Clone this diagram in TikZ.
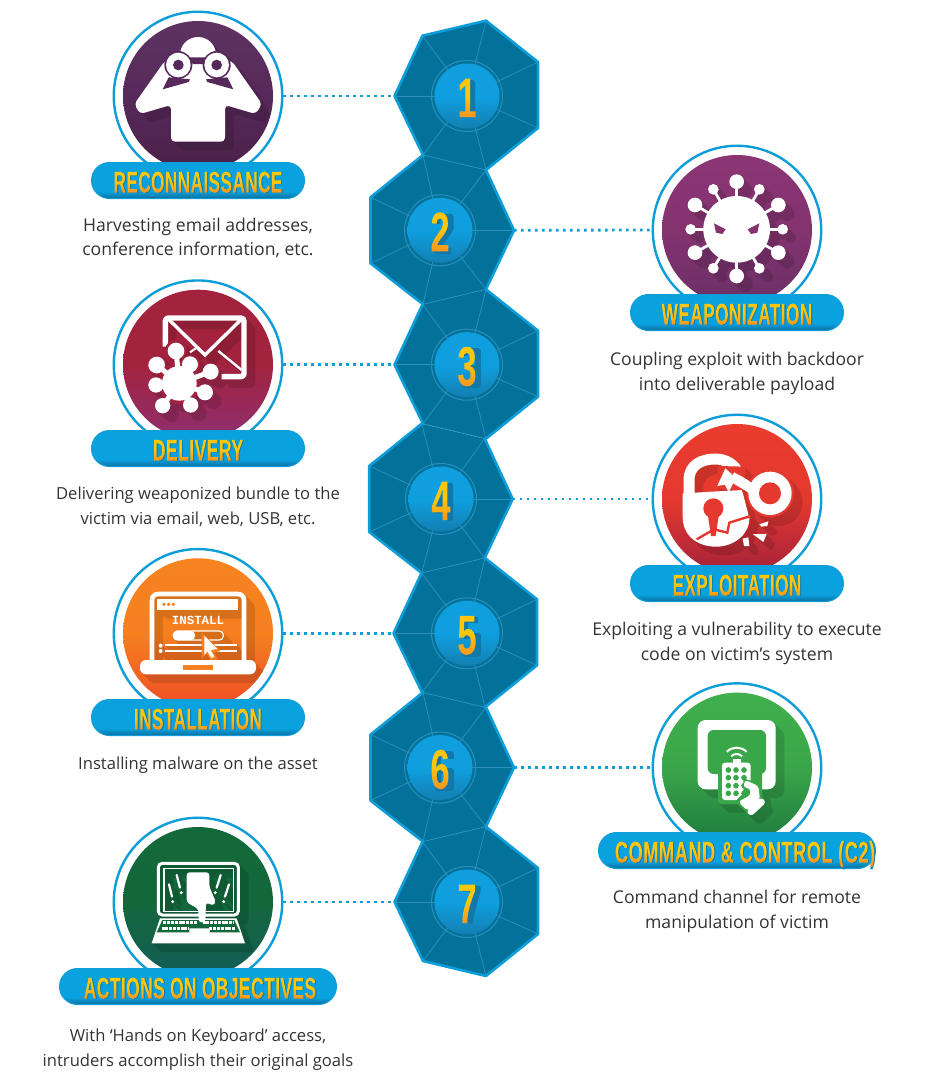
\documentclass[tikz,border=0pt]{standalone}
\usepackage{fontspec}
\setmainfont{Open Sans}
\newfontfamily\monoicon{Liberation Mono}
\usetikzlibrary{calc}
\definecolor{brand}{HTML}{0D9DD9}
\definecolor{hepdark}{HTML}{02729B}
\definecolor{spokec}{HTML}{2A8FBB}
\definecolor{txt}{HTML}{333333}
\definecolor{goldtop}{HTML}{FFC60B}
\definecolor{goldbot}{HTML}{F59A1E}
\definecolor{goldshadow}{HTML}{0B7DB2}
\definecolor{digitshadow}{HTML}{1377A8}
\definecolor{pilltop}{HTML}{0AA2DE}
\definecolor{pillbot}{HTML}{0A6F9F}
\definecolor{hubtop}{HTML}{0F9FDF}
\definecolor{hubbot}{HTML}{137FB2}
\newcommand\mkshade[4]{%
 \definecolor{#1a}{HTML}{#2}\definecolor{#1b}{HTML}{#3}\definecolor{#1c}{HTML}{#4}%
 \pgfdeclareverticalshading{#1}{100bp}{color(0bp)=(#1c); color(25bp)=(#1c); color(50bp)=(#1b); color(75bp)=(#1a); color(100bp)=(#1a)}}
\mkshade{shA}{5E3360}{57295A}{4A2249}
\mkshade{shB}{8B3575}{84336F}{6A3066}
\mkshade{shC}{A3233F}{A3233F}{8E2F70}
\mkshade{shD}{E93B2E}{E5392F}{A4223B}
\mkshade{shE}{F68220}{F6801F}{EE4D26}
\mkshade{shF}{40AF4C}{3AA64A}{1F7A3E}
\mkshade{shG}{13693A}{13683B}{135C58}
\pgfdeclareverticalshading{pillsh}{100bp}{color(0bp)=(brand); color(25bp)=(pillbot); color(35bp)=(pilltop); color(100bp)=(pilltop)}
\pgfdeclareverticalshading{hubsh}{100bp}{color(0bp)=(hubbot); color(25bp)=(hubbot); color(50bp)=(hubtop); color(100bp)=(hubtop)}
\pgfdeclareverticalshading{goldlabel}{340bp}{color(0bp)=(goldbot); color(5bp)=(goldbot); color(15bp)=(goldtop); color(32bp)=(goldtop)}
\pgfdeclareverticalshading{golddigit}{50bp}{color(0bp)=(goldbot); color(6bp)=(goldbot); color(26bp)=(goldtop); color(50bp)=(goldtop)}
% text filled with a gradient: the glyphs clip the shading
\newcommand\goldfill[1]{%
  \special{x:gsave}\special{pdf:code 7 Tr}\copy0\special{x:gsave}%
  \hskip-\wd0\lower4pt\rlap{\pgfuseshading{#1}}\hskip\wd0
  \special{x:grestore}\special{x:grestore}}
\newcommand\labeltext[2]{%
 \setbox0=\hbox{\fontspec[FakeStretch=#1,LetterSpace=1.5]{Liberation Sans}\bfseries\fontsize{30}{30}\selectfont #2}\ht0=21.5pt\dp0=0pt
 \hbox{\rlap{\lower1.2pt\hbox{\kern1.2pt\color{goldshadow}\copy0}}\goldfill{goldlabel}}}
\newcommand\digittext[2]{%
 \setbox0=\hbox{\fontspec[FakeStretch=#1]{Liberation Sans}\bfseries\fontsize{56}{56}\selectfont #2}\ht0=40pt\dp0=0pt
 \hbox{\goldfill{golddigit}}}
\tikzset{
 hepfill/.style={fill=hepdark},
 hepedge/.style={draw=brand,line width=2.6pt,line join=round,line cap=round},
 spoke/.style={draw=spokec,line width=.8pt},
 hubdisc/.style={circle,inner sep=0pt,minimum size=65pt,shade,shading=hubsh,shading angle=0},
 hubring/.style={circle,inner sep=0pt,minimum size=71pt,draw=spokec,line width=1pt},
 ringnode/.style={circle,inner sep=0pt,minimum size=168.5pt,draw=brand,line width=2.4pt,fill=white},
 discnode/.style={circle,inner sep=0pt,minimum size=150pt,shade,shading angle=0},
 pill/.style={rectangle,rounded corners=18pt,minimum height=36pt,inner sep=0pt,shade,shading=pillsh,shading angle=0,draw=brand,line width=1pt},
 desc/.style={align=center,text=txt,font=\fontsize{17.6}{24.8}\selectfont,inner sep=0pt},
 descs/.style={desc,font=\fontsize{16.6}{24.8}\selectfont},
 dots/.style={draw=brand,line width=2.8pt,dash pattern=on 2.6pt off 4.4pt},
 digitnode/.style={inner sep=0pt},
 digitback/.style={draw=digitshadow,line width=6pt,line join=round,shift={(4,3.5)}},
}
\newcommand\cast[1]{%
 \begin{scope}[transparency group,opacity=.13]
 \colorlet{icfg}{black}\colorlet{icbg}{black}
 \foreach \k in {2,5,...,26}{\begin{scope}[shift={(\k,\k)}]#1\end{scope}}
 \end{scope}}
% ---- icons, in the coordinates of a 3x crop
\newcommand\iconA{%
 \fill[icfg] (324,165) circle (54);
 \fill[icfg,rounded corners=4pt] (225,182)--(133,312)--(150,342)--(243,315)--(243,425)--(405,425)--(405,315)--(497,342)--(516,312)--(425,182)--cycle;
 \fill[icbg] (218,268)--(236,232)--(300,238)--(296,246)--cycle;
 \fill[icbg] (430,268)--(412,232)--(348,238)--(352,246)--cycle;
 \fill[icbg] (265,195) circle (42) (380,195) circle (42);
 \fill[icbg] (298,172)--(346,172)--(340,192)--(308,192)--cycle;
 \fill[icfg] (265,195) circle (37) (380,195) circle (37);
 \fill[icbg] (265,195) circle (16) (380,195) circle (16);
}
\newcommand\iconB{%
 \foreach \x/\y/\r in {320/125/22,250/148/16,388/148/16,195/195/22,445/195/22,182/268/16,458/268/16,195/338/22,445/338/22,250/385/16,388/385/16,320/408/22}{%
  \draw[icfg,line width=2.8pt] (320,268)--(\x,\y);
  \fill[icfg] (\x,\y) circle (\r);}
 \fill[icfg] (320,268) circle (100);
 \fill[icbg] (252,250)--(287,268)--(277,282)--(258,278)--cycle;
 \fill[icbg] (388,250)--(353,268)--(363,282)--(382,278)--cycle;
}
\newcommand\iconC{%
 \draw[icfg,line width=5.4pt,rounded corners=3pt,line join=round] (395,305)--(462,305)--(462,129)--(226,129)--(226,215);
 \draw[icfg,line width=3.4pt,line join=miter] (238,135)--(345,240)--(452,135);
 \draw[icfg,line width=2.4pt] (385,228)--(455,285);
 \draw[icfg,line width=2pt] (300,232)--(320,218);
 \fill[icbg] (268,325) circle (62);
 \fill[icbg] (258,225) circle (32) (200,270) circle (30) (300,270) circle (30);
 \foreach \x/\y/\r in {258/228/25,200/270/25,300/268/24,362/290/24,198/330/23,345/352/24,218/392/23,302/390/23}{%
  \draw[icfg,line width=5pt] (268,325)--(\x,\y);
  \fill[icfg] (\x,\y) circle (\r);}
 \fill[icfg] (268,325) circle (52);
}
\newcommand\iconD{%
 \draw[icfg,line width=11pt] (177,265)--(177,210) .. controls (177,165) and (215,147) .. (255,147) .. controls (290,147) and (315,165) .. (325,190);
 \fill[icfg] (158,250)--(158,320) .. controls (158,380) and (205,410) .. (258,410) .. controls (310,410) and (358,375) .. (358,325)--(340,255)--(335,240)--cycle;
 \fill[icbg] (265,168)--(345,170)--(345,240)--(300,240)--(262,235)--cycle;
 \fill[icfg] (286,175)--(262,228)--(284,224)--(296,246)--(318,204)--cycle;
 \draw[icfg,line width=10pt] (305,200)--(375,240);
 \fill[icbg] (420,250) circle (72);
 \fill[icfg] (420,250) circle (65);
 \draw[icfg,line width=10pt] (320,208)--(368,238);
 \fill[icbg] (420,250) circle (33);
 \fill[icbg] (250,295) circle (30);
 \fill[icbg] (232,305)--(268,305)--(257,378)--(243,378)--cycle;
 \draw[icbg,line width=2.4pt] (200,388)--(252,358)--(292,368)--(298,338)--(362,318);
 \fill[icfg] (388,343)--(415,334)--(412,348)--(394,350)--cycle;
 \fill[icfg] (368,372)--(410,372)--(400,396)--cycle;
 \fill[icfg] (338,386)--(355,382)--(358,408)--(342,408)--cycle;
}
\newcommand\iconE{%
 \draw[icfg,line width=4.6pt,rounded corners=6pt] (186,350)--(186,147)--(462,147)--(462,350);
 \fill[icfg] (200,163) rectangle (445,195);
 \fill[icbg] (222,178) circle (5.5) (236,178) circle (5.5) (250,178) circle (5.5);
 \draw[icfg,line width=1.2pt,rounded corners=4pt] (250,258) rectangle (400,285);
 \fill[icfg,rounded corners=4pt] (250,258) rectangle (315,285);
 \draw[icfg,line width=2pt] (225,301)--(440,301) (225,319)--(440,319);
 \fill[icfg] (212,302) circle (6) (212,318) circle (6);
 \fill[icbg] (335,262)--(392,318)--(372,322)--(382,342)--(362,346)--(350,326)--(335,340)--cycle;
 \fill[icfg] (343,272)--(382,312)--(362,315)--(373,335)--(364,339)--(352,319)--(343,330)--cycle;
 \fill[icfg,rounded corners=6pt] (150,345) rectangle (498,388);
 \fill[icbg] (278,359) rectangle (370,375);
}
\newcommand\iconF{%
 \fill[icfg,rounded corners=8pt] (203,120) rectangle (437,328);
 \fill[icbg,rounded corners=6pt] (233,150) rectangle (408,282);
 \fill[icbg,rounded corners=3pt] (264,235) rectangle (396,372);
 \draw[icfg,line width=2pt] (290.3,215.3) arc (-135:-45:42);
 \draw[icfg,line width=2pt] (303.7,228.7) arc (-135:-45:23);
 \fill[icfg] (308,236) rectangle (332,248);
 \fill[icfg,rounded corners=3pt] (276,248) rectangle (362,360);
 \foreach \y in {270,293,317,340}{\foreach \x in {295,318,342}{\fill[icbg] (\x,\y) circle (8.5);}}
 \fill[icbg,rounded corners=2pt] (340,295)--(392,312)--(398,362)--(358,405)--(315,365)--(340,340)--cycle;
 \fill[icfg,rounded corners=3pt] (345,300)--(385,318)--(390,358)--(352,392)--(325,365)--(362,345)--(360,325)--(340,322)--cycle;
 \draw[icfg,line width=7pt,line cap=round] (363,395)--(394,366);
}
\newcommand\iconG{%
 \draw[icfg,line width=3pt,rounded corners=4pt] (205,145) rectangle (445,300);
 \draw[icfg,line width=1.2pt] (222,160) rectangle (430,290);
 \fill[icfg] (210,310)--(440,310)--(465,385)--(185,385)--cycle;
 \fill[icbg] (217,315)--(433,315)--(450,352)--(360,352)--(360,340)--(298,340)--(298,352)--(200,352)--cycle;
 \foreach \y/\xa/\xb/\xc/\xd in {323/220/322/338/432,340/215/296/358/435}{%
  \draw[icfg,line width=3pt,dash pattern=on 3pt off .8pt] (\xa,\y)--(\xb,\y) (\xc,\y)--(\xd,\y);}
 \fill[icfg,rounded corners=3pt] (290,172)--(358,172)--(358,215)--(378,262)--(368,272)--(348,262)--(346,322)--(326,322)--(325,282)--(290,262)--cycle;
 \draw[icfg,line width=2.2pt,line cap=round] (237,208)--(246,245) (260,180)--(270,218) (392,180)--(380,218) (417,208)--(405,245);
 \fill[icfg] (248,260) circle (5) (274,233) circle (5) (376,233) circle (5) (401,260) circle (5);
}
\newcommand\badge[8]{% id cx cy shading bg icon ox oy
 \node[ringnode] (b#1) at (#2,#3) {};
 \node[discnode,shading=#4] (disc#1) at (#2,#3) {};
 \colorlet{icfg}{white}\colorlet{icbg}{#5}
 \begin{scope}
  \clip (#2,#3) circle (75);
  \begin{scope}[shift={(#7,#8)},scale=1/3] \cast{#6} \end{scope}
 \end{scope}
 \begin{scope}[shift={(#7,#8)},scale=1/3] #6 \end{scope}
}
\begin{document}
\begin{tikzpicture}[x=1pt,y=-1pt]
\useasboundingbox (0,0) rectangle (935,1090);
% heptagons
\foreach \i/\y/\hx/\cx in {1/96/467/467,3/364.7/467/467,5/633.3/466/467,7/902/467/467}{
 \begin{scope}[shift={(\hx,\y)}]
  \coordinate (h\i a) at (19,-75.3); \coordinate (h\i b) at (71,-34); \coordinate (h\i c) at (71,32);
  \coordinate (h\i d) at (19,74); \coordinate (h\i e) at (-44,59); \coordinate (h\i f) at (-72.5,0); \coordinate (h\i g) at (-44.5,-60.3);
 \end{scope}
 \coordinate (c\i) at (\cx,\y);
 \fill[hepfill] (h\i a)--(h\i b)--(h\i c)--(h\i d)--(h\i e)--(h\i f)--(h\i g)--cycle;
}
\foreach \i/\y/\hx/\cx in {2/230.3/440/440,4/499/438.7/441,6/767.6/440/440}{
 \begin{scope}[shift={(\hx,\y)}]
  \coordinate (h\i a) at (46,-60.3); \coordinate (h\i b) at (74,0); \coordinate (h\i c) at (46,59);
  \coordinate (h\i d) at (-17,74); \coordinate (h\i e) at (-69.5,33); \coordinate (h\i f) at (-69.5,-33); \coordinate (h\i g) at (-17,-75.3);
 \end{scope}
 \coordinate (c\i) at (\cx,\y);
 \fill[hepfill] (h\i a)--(h\i b)--(h\i c)--(h\i d)--(h\i e)--(h\i f)--(h\i g)--cycle;
}
\foreach \i in {1,...,7}{
 \foreach \v in {a,b,c,d,e,f,g}{\draw[spoke] (c\i)--(h\i\v);}
 \node[hubring] (ring\i) at (c\i) {};
 \node[hubdisc] (hub\i) at (c\i) {};
}
\draw[spoke] (h1d)--(h1e) (h2c)--(h2d) (h3d)--(h3e) (h4c)--(h4d) (h5d)--(h5e) (h6c)--(h6d);
\foreach \i in {1,3,5,7}{
 \draw[hepedge] (h\i a)--(h\i b)--(h\i c)--(h\i d);
 \draw[hepedge] (h\i e)--(h\i f)--(h\i g);
}
\foreach \i in {2,4,6}{
 \draw[hepedge] (h\i a)--(h\i b)--(h\i c);
 \draw[hepedge] (h\i d)--(h\i e)--(h\i f)--(h\i g);
}
\draw[hepedge] (h1g)--(h1a);
\draw[hepedge] (h7d)--(h7e);
% digit cast shadows
\begin{scope}[shift={(c1)}] \draw[digitback] (-5,-14)--(1,-17)--(1,17); \end{scope}
\begin{scope}[shift={(c2)}] \draw[digitback] (-6.5,-10)--(-6.5,-17)--(6.5,-17)--(6.5,-5)--(-6.5,14)--(-6.5,17)--(7,17); \end{scope}
\begin{scope}[shift={(c3)}] \draw[digitback] (-6.5,-12)--(-6.5,-17)--(6.5,-17)--(6.5,17)--(-6.5,17)--(-6.5,12) (0,0)--(6.5,0); \end{scope}
\begin{scope}[shift={(c4)}] \draw[digitback] (5,18)--(5,-17)--(-8,8)--(8,8); \end{scope}
\begin{scope}[shift={(c5)}] \draw[digitback] (7,-17)--(-6,-17)--(-6,-1)--(6.5,-1)--(6.5,17)--(-6.5,17)--(-6.5,12); \end{scope}
\begin{scope}[shift={(c6)}] \draw[digitback] (6.5,-12)--(6.5,-17)--(-6.5,-17)--(-6.5,17)--(6.5,17)--(6.5,0)--(-6.5,0); \end{scope}
\begin{scope}[shift={(c7)}] \draw[digitback] (-8,-17)--(7,-17)--(-2,18); \end{scope}
\node[digitnode] (d1) at (hub1) {\digittext{.62}{1}};
\node[digitnode] (d2) at (hub2) {\digittext{.62}{2}};
\node[digitnode] (d3) at (hub3) {\digittext{.62}{3}};
\node[digitnode] (d4) at (hub4) {\digittext{.62}{4}};
\node[digitnode] (d5) at (hub5) {\digittext{.62}{5}};
\node[digitnode] (d6) at (hub6) {\digittext{.62}{6}};
\node[digitnode] (d7) at (hub7) {\digittext{.62}{7}};
% badges
\badge{1}{198}{96}{shA}{shAb}{\iconA}{90}{0}{}
\badge{2}{737}{230}{shB}{shBb}{\iconB}{630}{140}{}
\badge{3}{198}{364.7}{shC}{shCb}{\iconC}{90}{275}{}
\badge{4}{737}{499}{shD}{shDb}{\iconD}{630}{410}{}
\badge{5}{198}{633.3}{shE}{shEb}{\iconE}{90}{545}{}
\node[text=white,inner sep=0pt,font=\monoicon\bfseries\fontsize{12.4}{12.4}\selectfont] (inst) at (198,620) {INSTALL};
\badge{6}{737}{767.6}{shF}{shFb}{\iconF}{630}{680}{}
\badge{7}{198}{902}{shG}{shGb}{\iconG}{90}{815}{}
% connectors
\draw[dots] (b1.east)--(h1f);
\draw[dots] (h2b)--(b2.west);
\draw[dots] (b3.east)--(h3f);
\draw[dots] (h4b)--(b4.west);
\draw[dots] (b5.east)--(h5f);
\draw[dots] (h6b)--(b6.west);
\draw[dots] (b7.east)--(h7f);
% pills
\node[pill,minimum width=213pt] (p1) at (198,180.5) {\labeltext{.572}{RECONNAISSANCE}};
\node[pill,minimum width=213pt] (p2) at (737,312.5) {\labeltext{.575}{WEAPONIZATION}};
\node[pill,minimum width=213pt] (p3) at (198,448.5) {\labeltext{.585}{DELIVERY}};
\node[pill,minimum width=213pt] (p4) at (737,583.5) {\labeltext{.57}{EXPLOITATION}};
\node[pill,minimum width=213pt] (p5) at (198,717.5) {\labeltext{.57}{INSTALLATION}};
\node[pill,minimum width=277pt] (p6) at (737,850.5) {\hskip16pt\labeltext{.61}{COMMAND \& CONTROL (C2)}};
\node[pill,minimum width=277pt] (p7) at (198,986.5) {\hskip4pt\labeltext{.58}{ACTIONS ON OBJECTIVES}};
% descriptions
\node[desc] (t1) at (198,238) {Harvesting email addresses,\\conference information, etc.};
\node[desc] (t2) at (737,373.5) {Coupling exploit with backdoor\\into deliverable payload};
\node[descs] (t3) at (198,506.5) {Delivering weaponized bundle to the\\victim via email, web, USB, etc.};
\node[desc] (t4) at (737,643.5) {Exploiting a vulnerability to execute\\code on victim’s system};
\node[descs] (t5) at (198,765) {Installing malware on the asset};
\node[desc] (t6) at (737,911) {Command channel for remote\\manipulation of victim};
\node[descs] (t7) at (198,1049.5) {With ‘Hands on Keyboard’ access,\\intruders accomplish their original goals};
\end{tikzpicture}
\end{document}
